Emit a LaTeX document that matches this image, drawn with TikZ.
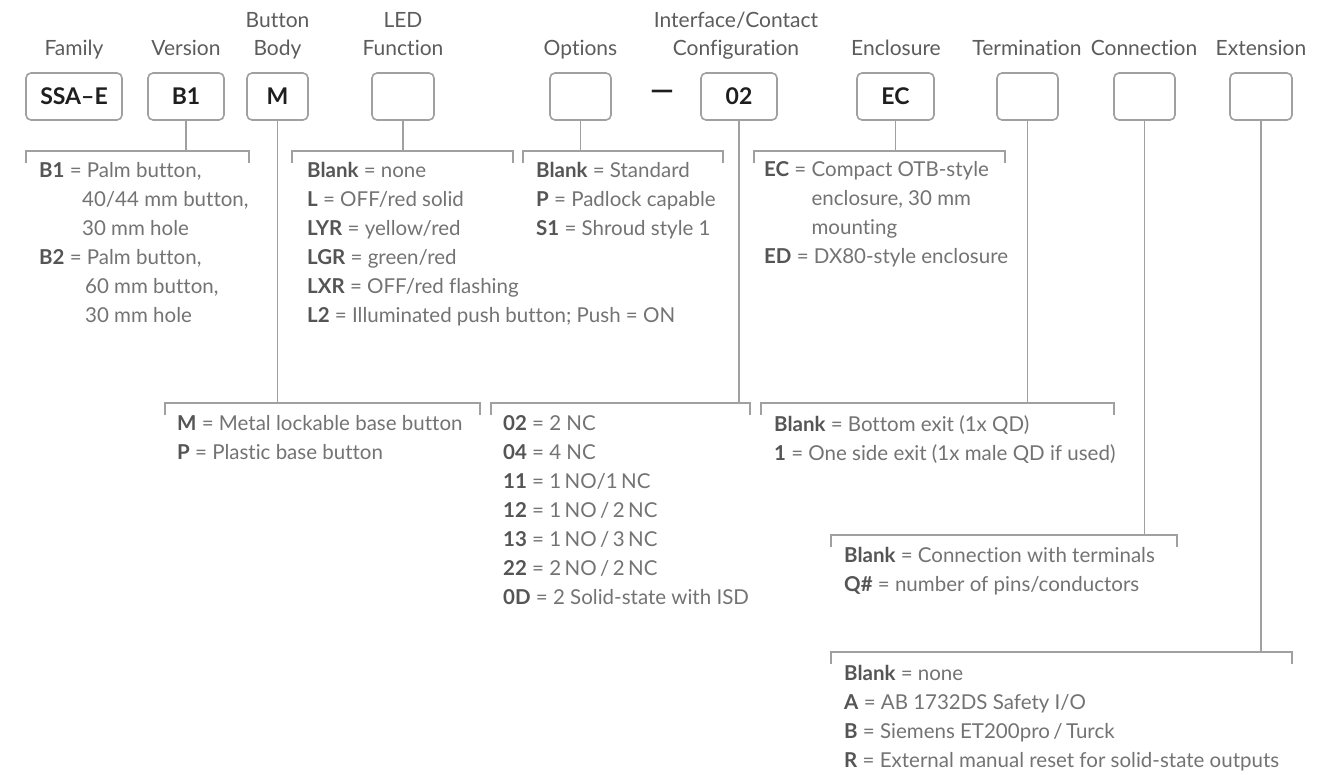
\documentclass[tikz,border=0pt]{standalone}
\usepackage{fontspec}
\setmainfont{Lato}[Ligatures=NoCommon]
\definecolor{linegray}{HTML}{A0A0A0}
\definecolor{txtgray}{HTML}{737373}
\definecolor{kwgray}{HTML}{555555}
\definecolor{hdrgray}{HTML}{5C5C5C}
\definecolor{boxtext}{HTML}{1E1E1E}
\newcommand\kw[1]{\textcolor{kwgray}{\textbf{#1}}}
\tikzset{
  codebox/.style={draw=linegray, line width=1.6pt, rounded corners=5pt,
    minimum height=47pt, inner sep=0pt, text=boxtext,
    font=\fontsize{23}{23}\selectfont\bfseries},
  hdr/.style={anchor=base, inner sep=0pt, text=hdrgray,
    font=\fontsize{21}{22}\selectfont},
  entry/.style={anchor=base west, inner sep=0pt, text=txtgray,
    font=\fontsize{20.5}{22}\selectfont},
  conn/.style={draw=linegray, line width=1.8pt},
}
\begin{document}
\begin{tikzpicture}[x=1pt,y=-1pt]
\useasboundingbox (0,0) rectangle (1343,774);
\fill[white] (0,0) rectangle (1343,774);

% code boxes
\node[codebox, minimum width=96pt] (fam)  at (74,96.5)    {SSA–E};
\node[codebox, minimum width=76pt] (ver)  at (186,96.5)   {B1};
\node[codebox, minimum width=61pt] (body) at (277.5,96.5) {M};
\node[codebox, minimum width=62pt] (led)  at (403,96.5)   {};
\node[codebox, minimum width=61pt] (opt)  at (580.5,96.5) {};
\node[codebox, minimum width=76pt] (ifc)  at (739,96.5)   {02};
\node[codebox, minimum width=77pt] (enc)  at (895.5,96.5) {EC};
\node[codebox, minimum width=61pt] (term) at (1027.5,96.5){};
\node[codebox, minimum width=61pt] (cnx)  at (1144.5,96.5){};
\node[codebox, minimum width=62pt] (ext)  at (1261,96.5)  {};
\node[inner sep=0pt, text=boxtext, font=\fontsize{30}{30}\selectfont\bfseries] (dash) at (662,95) {—};

% headers
\node[hdr] (hfam)  at (74,55)    {Family};
\node[hdr] (hver)  at (186,55)   {Version};
\node[hdr] (hbo1)  at (277.5,27) {Button};
\node[hdr] (hbo2)  at (277.5,55) {Body};
\node[hdr] (hled1) at (403,27)   {LED};
\node[hdr] (hled2) at (403,55)   {Function};
\node[hdr] (hopt)  at (580.5,55) {Options};
\node[hdr] (hifc1) at (736,27)   {Interface/Contact};
\node[hdr] (hifc2) at (736,55)   {Configuration};
\node[hdr] (henc)  at (896,55)   {Enclosure};
\node[hdr] (hterm) at (1027,55)  {Termination};
\node[hdr] (hcnx)  at (1144,55)  {Connection};
\node[hdr] (hext)  at (1261,55)  {Extension};

% bracket levels
\coordinate (rowA) at (0,151);
\coordinate (rowB) at (0,403);
\coordinate (rowC) at (0,535);
\coordinate (rowD) at (0,652);

% connectors
\draw[conn] (ver.south)  -- (ver.south |- rowA);
\draw[conn] (led.south)  -- (led.south |- rowA);
\draw[conn] (opt.south)  -- (opt.south |- rowA);
\draw[conn] (enc.south)  -- (enc.south |- rowA);
\draw[conn] (body.south) -- (body.south |- rowB);
\draw[conn] (ifc.south)  -- (ifc.south |- rowB);
\draw[conn] (term.south) -- (term.south |- rowB);
\draw[conn] (cnx.south)  -- (cnx.south |- rowC);
\draw[conn] (ext.south)  -- (ext.south |- rowD);

% brackets
\draw[conn] (26,163)  -- (26,151)  -- (249,151)  -- (249,163);
\draw[conn] (292,163) -- (292,151) -- (513,151)  -- (513,163);
\draw[conn] (523,163) -- (523,151) -- (723,151)  -- (723,163);
\draw[conn] (754,163) -- (754,151) -- (1005,151) -- (1005,163);
\draw[conn] (165,415) -- (165,403) -- (480,403)  -- (480,415);
\draw[conn] (491,415) -- (491,403) -- (750,403)  -- (750,415);
\draw[conn] (761,415) -- (761,403) -- (1114,403) -- (1114,415);
\draw[conn] (831,547) -- (831,535) -- (1177,535) -- (1177,547);
\draw[conn] (831,664) -- (831,652) -- (1292,652) -- (1292,664);

% lists
\foreach \t [count=\i] in {
  {\kw{B1} = Palm button,},
  {\hspace*{43pt}40/44 mm button,},
  {\hspace*{43pt}30 mm hole},
  {\kw{B2} = Palm button,},
  {\hspace*{46pt}60 mm button,},
  {\hspace*{46pt}30 mm hole}}
  \node[entry] (ver\i) at (39,{148+29*\i}) {\t};

\foreach \t [count=\i] in {
  {\kw{Blank} = none},
  {\kw{L} = OFF/red solid},
  {\kw{LYR} = yellow/red},
  {\kw{LGR} = green/red},
  {\kw{LXR} = OFF/red flashing},
  {\kw{L2} = Illuminated push button; Push = ON}}
  \node[entry] (led\i) at (307,{148+29*\i}) {\t};

\foreach \t [count=\i] in {
  {\kw{Blank} = Standard},
  {\kw{P} = Padlock capable},
  {\kw{S1} = Shroud style 1}}
  \node[entry] (opt\i) at (536,{148+29*\i}) {\t};

\foreach \t [count=\i] in {
  {\kw{EC} = Compact OTB-style},
  {\phantom{\kw{EC} = }enclosure, 30 mm},
  {\phantom{\kw{EC} = }mounting},
  {\kw{ED} = DX80-style enclosure}}
  \node[entry] (enc\i) at (764,{147+29*\i}) {\t};

\foreach \t [count=\i] in {
  {\kw{M} = Metal lockable base button},
  {\kw{P} = Plastic base button}}
  \node[entry] (body\i) at (177,{401+29*\i}) {\t};

\foreach \t [count=\i] in {
  {\kw{02} = 2 NC},
  {\kw{04} = 4 NC},
  {\kw{11} = 1\,NO/1\,NC},
  {\kw{12} = 1\,NO\,/\,2\,NC},
  {\kw{13} = 1\,NO\,/\,3\,NC},
  {\kw{22} = 2\,NO\,/\,2\,NC},
  {\kw{0D} = 2 Solid-state with ISD}}
  \node[entry] (ifc\i) at (503,{401+29*\i}) {\t};

\foreach \t [count=\i] in {
  {\kw{Blank} = Bottom exit (1x QD)},
  {\kw{1} = One side exit (1x male QD if used)}}
  \node[entry] (term\i) at (774,{402+29*\i}) {\t};

\foreach \t [count=\i] in {
  {\kw{Blank} = Connection with terminals},
  {\kw{Q\#} = number of pins/conductors}}
  \node[entry] (cnx\i) at (844,{533+29*\i}) {\t};

\foreach \t [count=\i] in {
  {\kw{Blank} = none},
  {\kw{A} = AB 1732DS Safety I/O},
  {\kw{B} = Siemens ET200pro\,/\,Turck},
  {\kw{R} = External manual reset for solid-state outputs}}
  \node[entry] (ext\i) at (844,{651+29*\i}) {\t};
\end{tikzpicture}
\end{document}
